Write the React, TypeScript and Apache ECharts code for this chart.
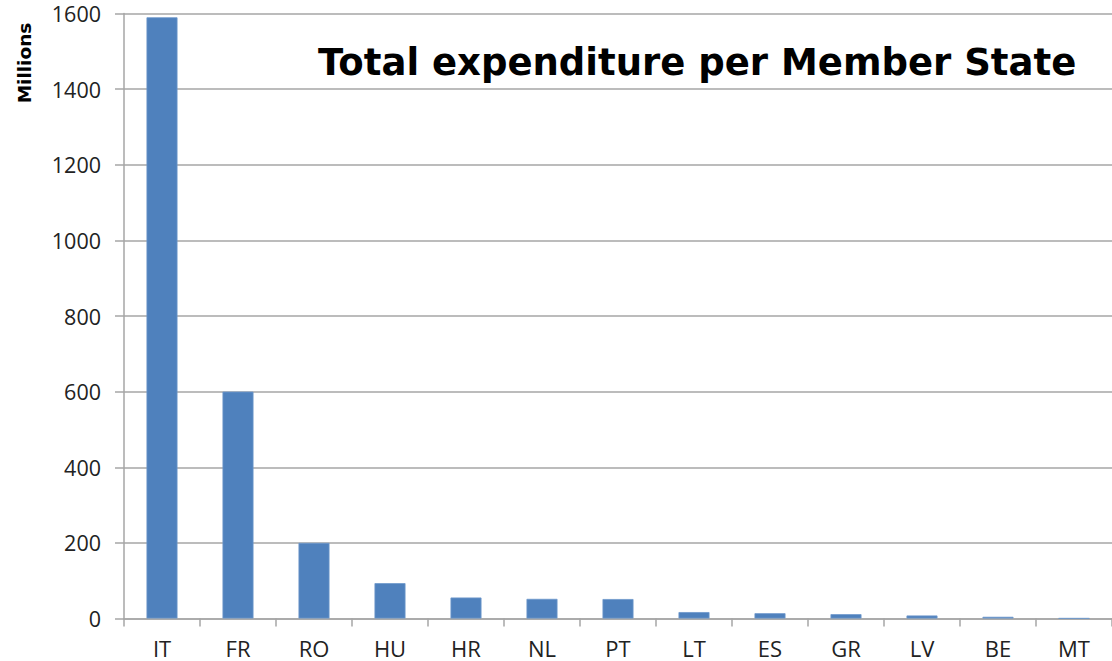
import React, { useEffect, useRef } from "react";
import * as echarts from "echarts";

const categories = ["IT", "FR", "RO", "HU", "HR", "NL", "PT", "LT", "ES", "GR", "LV", "BE", "MT"];
const expenditure = [1590, 600, 200, 93.5, 55.5, 52, 51.5, 17, 14, 11.5, 8, 4.5, 0.5];
const yTicks = { min: 0, max: 1600, interval: 200 };
const titleText = "Total expenditure per Member State";
const yAxisName = "Millions";

export default function App() {
  const ref = useRef<HTMLDivElement>(null);
  useEffect(() => {
    const chart = echarts.init(ref.current!, null, { renderer: "svg" });
    const grid = "#a6a6a6";
    chart.setOption({
      animation: false,
      backgroundColor: "#ffffff",
      grid: { left: 124, right: 0, top: 13.5, bottom: 42.5, containLabel: false },
      xAxis: {
        type: "category",
        data: categories,
        axisLine: { show: true, lineStyle: { color: grid, width: 1.5 } },
        axisTick: { show: true, alignWithLabel: false, length: 8, lineStyle: { color: grid, width: 1.5 } },
        axisLabel: { color: "#222", fontFamily: "Open Sans", fontSize: 22, margin: 18 },
      },
      yAxis: {
        type: "value",
        min: yTicks.min,
        max: yTicks.max,
        interval: yTicks.interval,
        axisLine: { show: true, lineStyle: { color: grid, width: 1.5 } },
        axisTick: { show: true, length: 9, lineStyle: { color: grid, width: 1.5 } },
        splitLine: { show: true, lineStyle: { color: grid, width: 1.5 } },
        axisLabel: {
          color: "#222",
          fontFamily: "Open Sans",
          fontSize: 21.5,
          lineHeight: 22,
          margin: 23,
          formatter: (v: number) => String(v),
        },
      },
      series: [
        {
          type: "bar",
          data: expenditure,
          barWidth: 31,
          itemStyle: { color: "#4f81bd", borderColor: "#6f98cc", borderWidth: 0.8 },
        },
      ],
      graphic: [
        {
          type: "text",
          x: 318,
          y: 44,
          style: {
            text: titleText,
            fill: "#000",
            font: "bold 37px 'DejaVu Sans'",
          },
        },
        {
          type: "text",
          x: 24,
          y: 63,
          rotation: Math.PI / 2,
          style: {
            text: yAxisName,
            fill: "#000",
            font: "bold 18.5px 'DejaVu Sans'",
            align: "center",
            verticalAlign: "middle",
          },
        },
      ],
    });
    return () => chart.dispose();
  }, []);
  return <div ref={ref} style={{ width: 1112, height: 661, position: "absolute", left: 0, top: 0 }} />;
}
